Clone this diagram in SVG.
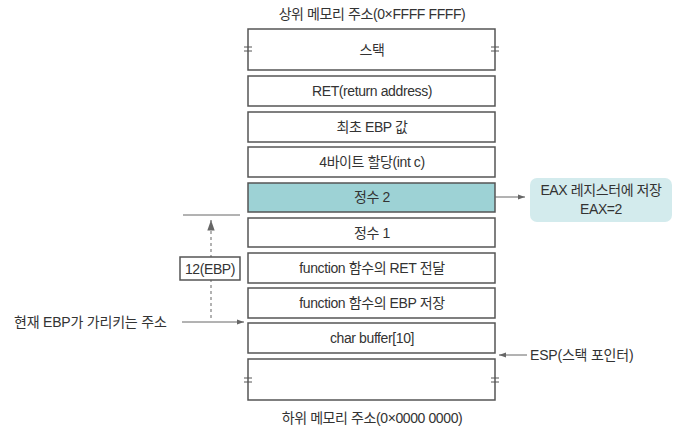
<svg xmlns="http://www.w3.org/2000/svg" width="679" height="437" viewBox="0 0 679 437">
<defs>
<style>
.box{fill:#fff;stroke:#555;stroke-width:1.5}
.hl{fill:#9dd2d5;stroke:#555;stroke-width:1.5}
.t{font-family:"Liberation Sans","Noto Sans CJK KR",sans-serif;font-size:14px;fill:#333;text-anchor:middle;letter-spacing:-0.4px}
.tl{font-family:"Liberation Sans","Noto Sans CJK KR",sans-serif;font-size:14px;fill:#333;letter-spacing:-0.2px}
.ln{stroke:#666;stroke-width:1;fill:none}
.brk{stroke:#555;stroke-width:1}
</style>
<marker id="ah" viewBox="0 0 10 10" refX="10" refY="5" markerWidth="7" markerHeight="7" orient="auto"><path d="M0,1.5 L10,5 L0,8.5 z" fill="#666"/></marker>
</defs>
<text class="t" x="372" y="19">상위 메모리 주소(0×FFFF FFFF)</text>
<g id="n-stack"><rect class="box" x="248" y="29" width="247" height="41"/><text class="t" x="372" y="55">스택</text>
<path class="brk" d="M244,47h8M244,51h8M491,47h8M491,51h8"/></g>
<g id="n-ret"><rect class="box" x="248" y="76" width="247" height="30"/><text class="t" x="372" y="96">RET(return address)</text></g>
<g id="n-ebp0"><rect class="box" x="248" y="112" width="247" height="30"/><text class="t" x="372" y="132">최초 EBP 값</text></g>
<g id="n-int-c"><rect class="box" x="248" y="147" width="247" height="30"/><text class="t" x="372" y="167">4바이트 할당(int c)</text></g>
<g id="n-int2"><rect class="hl" x="248" y="183" width="247" height="29"/><text class="t" x="372" y="202">정수 2</text></g>
<g id="n-int1"><rect class="box" x="248" y="218" width="247" height="29"/><text class="t" x="372" y="238">정수 1</text></g>
<g id="n-fret"><rect class="box" x="248" y="253" width="247" height="30"/><text class="t" x="372" y="273">function 함수의 RET 전달</text></g>
<g id="n-febp"><rect class="box" x="248" y="288" width="247" height="30"/><text class="t" x="372" y="308">function 함수의 EBP 저장</text></g>
<g id="n-buf"><rect class="box" x="248" y="323" width="247" height="30"/><text class="t" x="372" y="343">char buffer[10]</text></g>
<g id="n-bottom"><rect class="box" x="248" y="359" width="247" height="41"/>
<path class="brk" d="M244,378h8M244,382h8M491,378h8M491,382h8"/></g>
<text class="t" x="372" y="423">하위 메모리 주소(0×0000 0000)</text>
<g id="connectors">
<line class="ln" x1="183" y1="215" x2="240" y2="215"/>
<line x1="211" y1="318" x2="211" y2="220" stroke="#999" stroke-width="1.5" stroke-dasharray="3,3" marker-end="url(#ah)"/>
<line class="ln" x1="182" y1="322" x2="244" y2="322" marker-end="url(#ah)"/>
<line class="ln" x1="495" y1="197" x2="525" y2="197" marker-end="url(#ah)"/>
<line class="ln" x1="527" y1="355" x2="499" y2="355" marker-end="url(#ah)"/>
</g>
<g id="n-12ebp"><rect class="box" x="180" y="257" width="60" height="23"/><text class="t" x="210" y="274">12(EBP)</text></g>
<g id="n-eax"><rect x="530" y="178" width="142" height="44" rx="7" fill="#d3ebed"/><text class="t" x="601" y="195">EAX 레지스터에 저장</text><text class="t" x="601" y="214">EAX=2</text></g>
<g id="n-cur-ebp"><text class="tl" x="14" y="327">현재 EBP가 가리키는 주소</text></g>
<g id="n-esp"><text class="tl" x="530" y="360">ESP(스택 포인터)</text></g>
</svg>
